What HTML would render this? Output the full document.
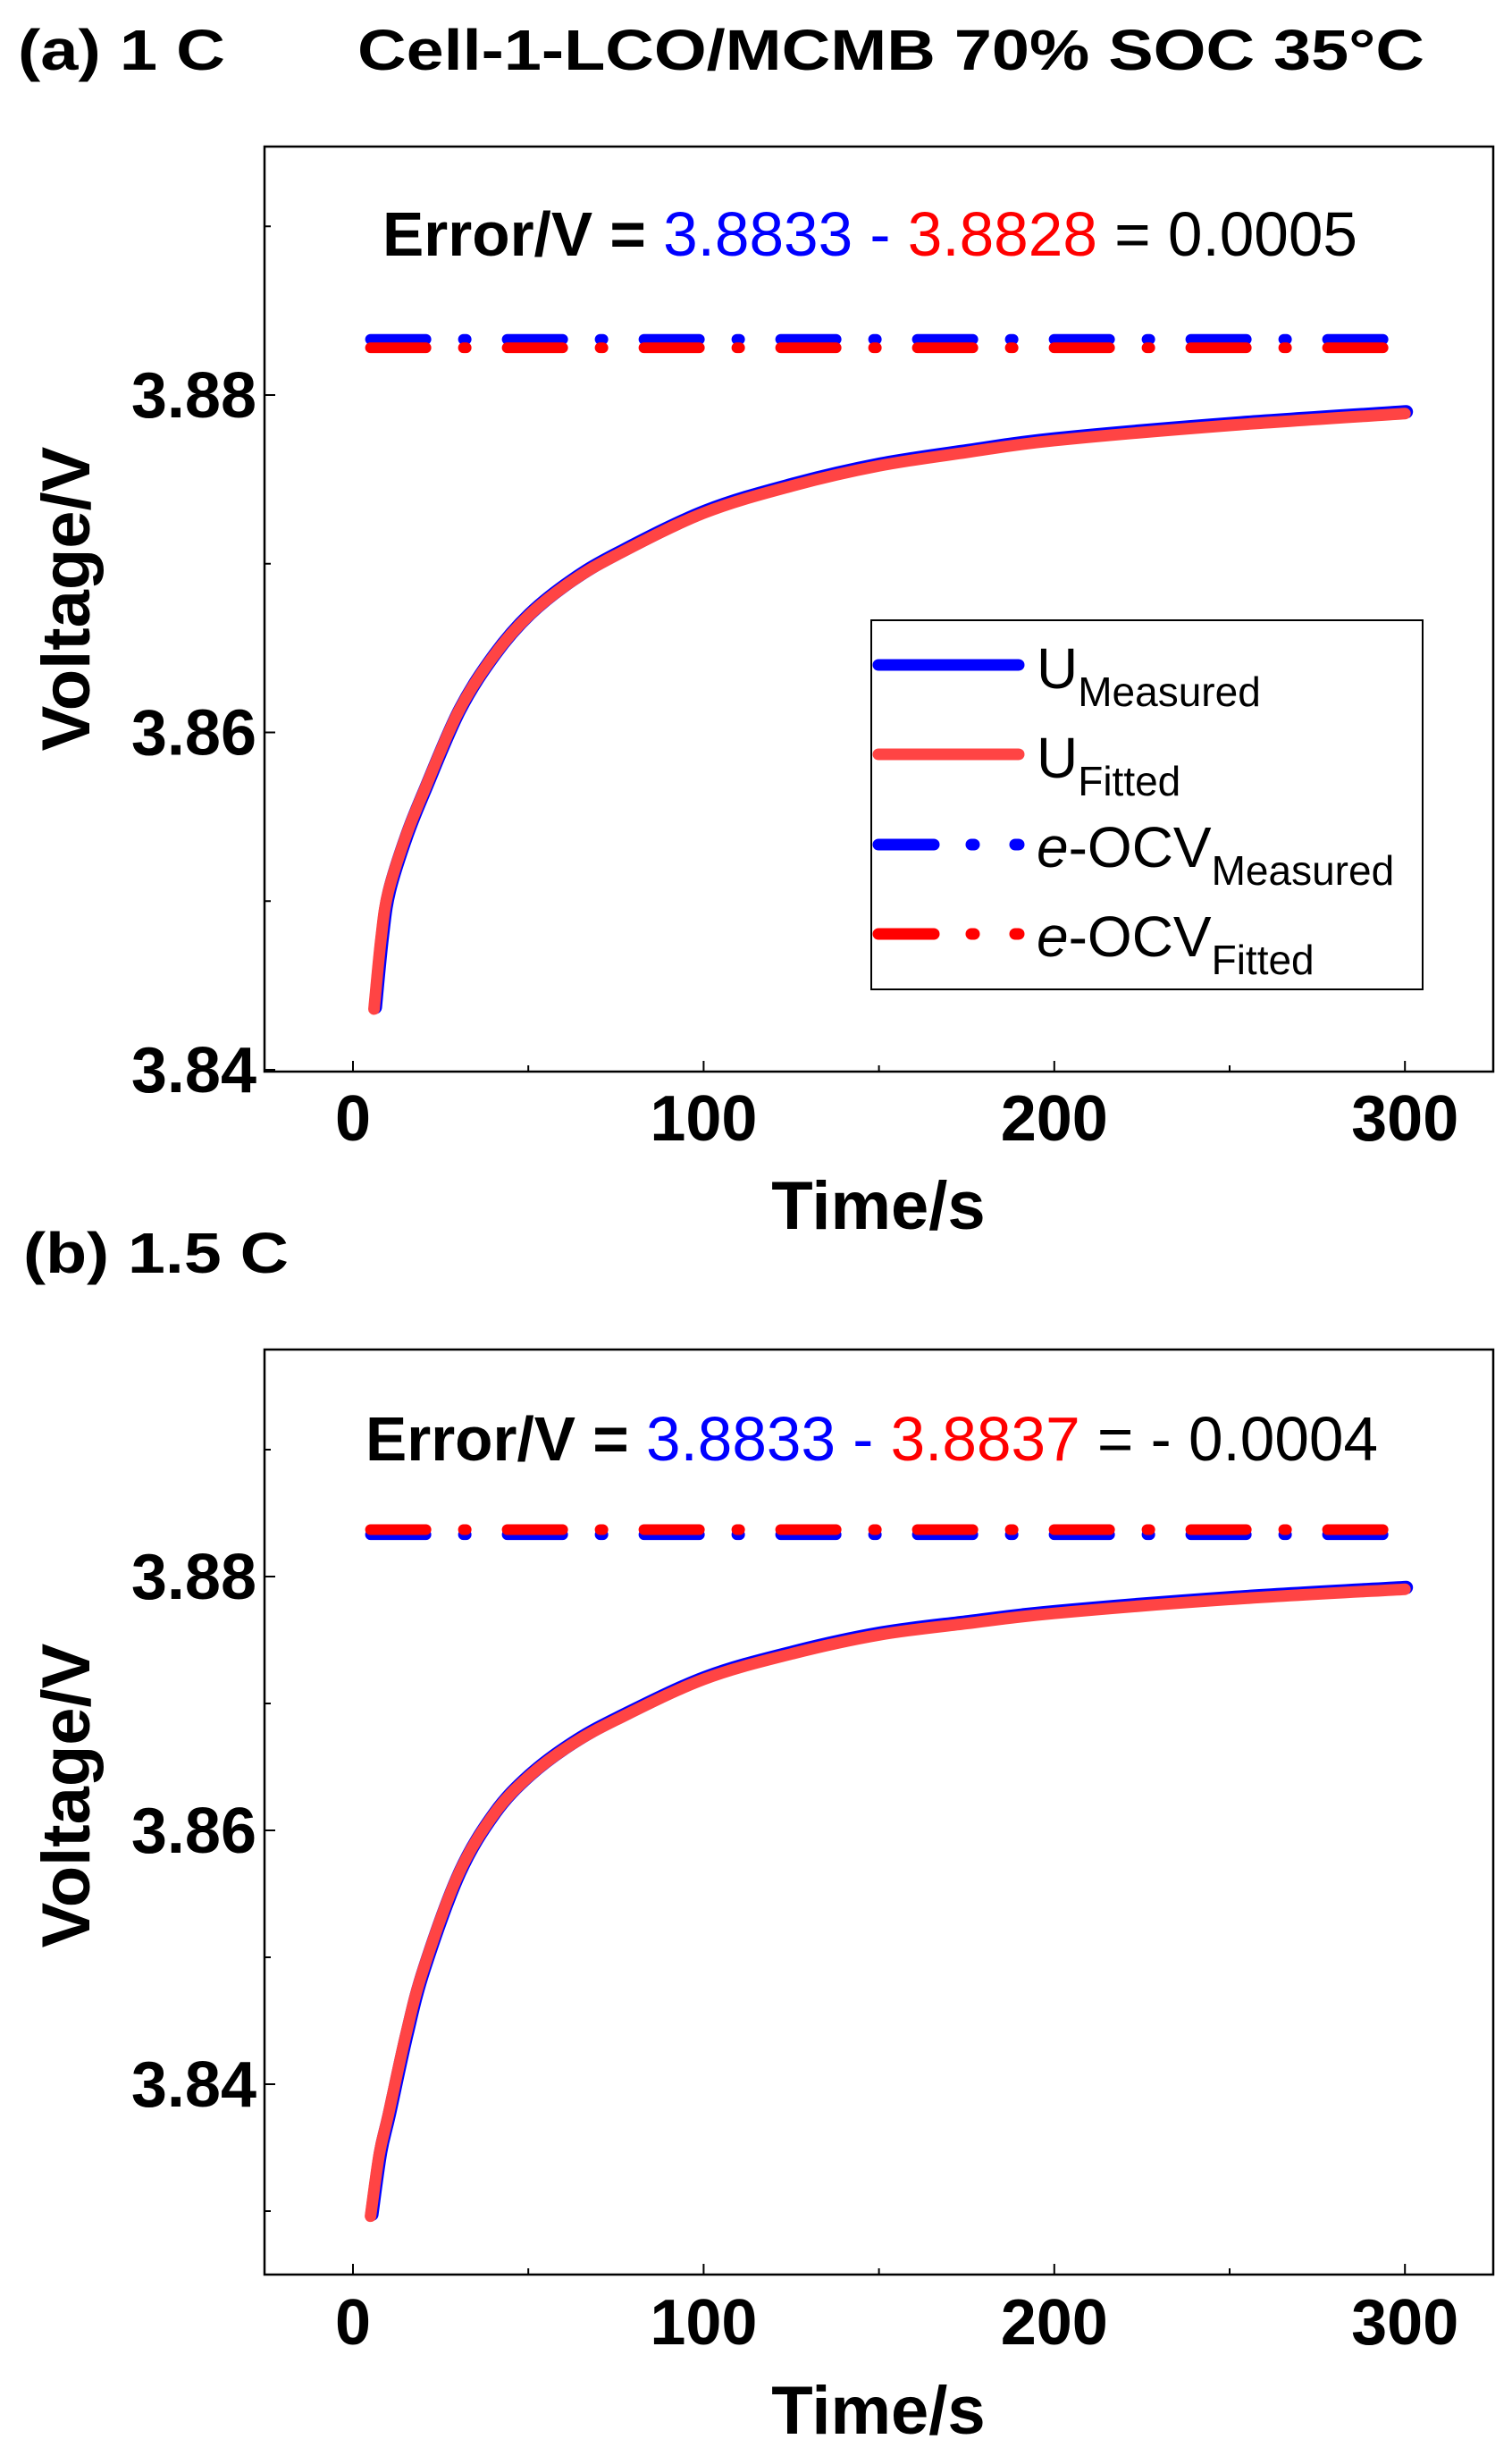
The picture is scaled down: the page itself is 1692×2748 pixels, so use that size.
<!DOCTYPE html>
<html><head><meta charset="utf-8"><style>
html,body{margin:0;padding:0;background:#fff;}
svg{display:block;font-family:"Liberation Sans",Arial,sans-serif;}
</style></head><body>
<svg id="s" width="1692" height="2748" viewBox="0 0 1692 2748" xmlns="http://www.w3.org/2000/svg">
<rect width="1692" height="2748" fill="#fff"/>
<text x="20" y="78" font-size="64" font-weight="bold" textLength="232" lengthAdjust="spacingAndGlyphs">(a) 1 C</text>
<text x="400" y="78" font-size="64" font-weight="bold" textLength="1194" lengthAdjust="spacingAndGlyphs">Cell-1-LCO/MCMB 70% SOC 35°C</text>
<text x="26" y="1424" font-size="64" font-weight="bold" textLength="297" lengthAdjust="spacingAndGlyphs">(b) 1.5 C</text>
<g id="pa"></g>
<g id="pb"></g>
<!-- legend a -->
<rect x="975" y="694" width="617" height="413" fill="#fff" stroke="#000" stroke-width="2"/>
<line x1="983" y1="744" x2="1140" y2="744" stroke="#0000ff" stroke-width="13" stroke-linecap="round"/>
<line x1="983" y1="844" x2="1140" y2="844" stroke="#ff4444" stroke-width="13" stroke-linecap="round"/>
<line x1="983" y1="945" x2="1140" y2="945" stroke="#0000ff" stroke-width="13" stroke-linecap="round" stroke-dasharray="62 42 3 46"/>
<line x1="983" y1="1045" x2="1140" y2="1045" stroke="#ff0000" stroke-width="13" stroke-linecap="round" stroke-dasharray="62 42 3 46"/>
<text x="1160" y="770" font-size="64">U<tspan font-size="46" dy="20">Measured</tspan></text>
<text x="1160" y="870" font-size="64">U<tspan font-size="46" dy="20">Fitted</tspan></text>
<text x="1160" y="970" font-size="64"><tspan font-style="italic">e</tspan>-OCV<tspan font-size="46" dy="20">Measured</tspan></text>
<text x="1160" y="1070" font-size="64"><tspan font-style="italic">e</tspan>-OCV<tspan font-size="46" dy="20">Fitted</tspan></text>
</svg>
<script>
var NS="http://www.w3.org/2000/svg";
function el(p,n,a,t){var e=document.createElementNS(NS,n);for(var k in a)e.setAttribute(k,a[k]);if(t!==undefined)e.textContent=t;p.appendChild(e);return e;}
function catmull(pts){var d="M"+pts[0][0]+","+pts[0][1];for(var i=0;i<pts.length-1;i++){var p0=pts[i-1]||pts[i],p1=pts[i],p2=pts[i+1],p3=pts[i+2]||p2;
d+=" C"+(p1[0]+(p2[0]-p0[0])/6)+","+(p1[1]+(p2[1]-p0[1])/6)+" "+(p2[0]-(p3[0]-p1[0])/6)+","+(p2[1]-(p3[1]-p1[1])/6)+" "+p2[0]+","+p2[1];}return d;}
function panel(g,cfg){
 var X=function(t){return 395+t*3.924;};
 var Y=function(v){return cfg.y388+(3.88-v)*cfg.k;};
 el(g,"rect",{x:296,y:cfg.top,width:1375,height:1035,fill:"none",stroke:"#000","stroke-width":2.5});
 var bot=cfg.top+1035;
 for(var t=0;t<=300;t+=50){el(g,"line",{x1:X(t),y1:bot,x2:X(t),y2:bot-(t%100==0?12:7),stroke:"#000","stroke-width":2});}
 for(var t=0;t<=300;t+=100){el(g,"text",{x:X(t),y:cfg.xl,"font-size":72,"font-weight":"bold","text-anchor":"middle"},String(t));}
 cfg.yt.forEach(function(v){var y=Y(v);if(y>cfg.top&&y<bot+1)el(g,"line",{x1:296,y1:y,x2:296+(cfg.maj.indexOf(v)>=0?12:7),y2:y,stroke:"#000","stroke-width":2});});
 cfg.maj.forEach(function(v){el(g,"text",{x:287,y:Y(v)+25,"font-size":72,"font-weight":"bold","text-anchor":"end"},v.toFixed(2));});
 el(g,"text",{x:983,y:cfg.xlab,"font-size":76,"font-weight":"bold","text-anchor":"middle"},"Time/s");
 el(g,"text",{x:0,y:0,"font-size":76,"font-weight":"bold","text-anchor":"middle",transform:"translate(100,"+cfg.ylc+") rotate(-90)"},"Voltage/V");
 cfg.ocv.forEach(function(o){el(g,"line",{x1:X(5),y1:Y(o[0]),x2:X(296),y2:Y(o[0]),stroke:o[1],"stroke-width":12,"stroke-linecap":"round","stroke-dasharray":"62 42 3 46"});});
 var pts=cfg.pts.map(function(p){return [X(p[0]),Y(p[1])];});
 var pb=cfg.pts.map(function(p){return [X(p[0])+1.5,Y(p[1])-2];});
 el(g,"path",{d:catmull(pb),fill:"none",stroke:"#0000ff","stroke-width":15,"stroke-linecap":"round","stroke-linejoin":"round"});
 el(g,"path",{d:catmull(pts),fill:"none",stroke:"#ff4444","stroke-width":13,"stroke-linecap":"round","stroke-linejoin":"round"});
 var tx=el(g,"text",{x:cfg.ex,y:cfg.ey,"font-size":70,textLength:cfg.ew,lengthAdjust:"spacingAndGlyphs"});
 cfg.err.forEach(function(s){el(tx,"tspan",{fill:s[1],"font-weight":s[2]?"bold":"normal"},s[0]);});
}
panel(document.getElementById("pa"),{top:164,y388:442,k:18875,xl:1276,xlab:1375,ylc:670,
 maj:[3.84,3.86,3.88],yt:[3.84,3.85,3.86,3.87,3.88,3.89],
 ocv:[[3.8833,"#0000ff"],[3.8828,"#ff0000"]],
 pts:[[6,3.8436],[8,3.8478],[10,3.8505],[15,3.8538],[20,3.8564],[30,3.8612],[40,3.8645],[50,3.8669],[62,3.8689],[75,3.8705],[100,3.8730],[125,3.8746],[150,3.8758],[175,3.8766],[200,3.8773],[250,3.8782],[300,3.8789]],
 ex:428,ey:286,ew:1091,err:[["Error/V = ","#000",1],["3.8833 - ","#0000ff"],["3.8828","#ff0000"],[" = 0.0005","#000"]]});
panel(document.getElementById("pb"),{top:1510,y388:1764,k:14200,xl:2623,xlab:2723,ylc:2009,
 maj:[3.84,3.86,3.88],yt:[3.83,3.84,3.85,3.86,3.87,3.88,3.89],
 ocv:[[3.8833,"#0000ff"],[3.8837,"#ff0000"]],
 pts:[[5,3.8296],[7.5,3.8345],[10,3.8375],[15,3.8438],[20,3.8490],[30,3.8565],[40,3.8612],[50,3.8642],[62,3.8667],[75,3.8687],[100,3.8719],[125,3.8739],[150,3.8754],[175,3.8763],[200,3.8771],[250,3.8782],[300,3.8790]],
 ex:409,ey:1634,ew:1133,err:[["Error/V = ","#000",1],["3.8833 - ","#0000ff"],["3.8837","#ff0000"],[" = - 0.0004","#000"]]});
</script>
</body></html>
